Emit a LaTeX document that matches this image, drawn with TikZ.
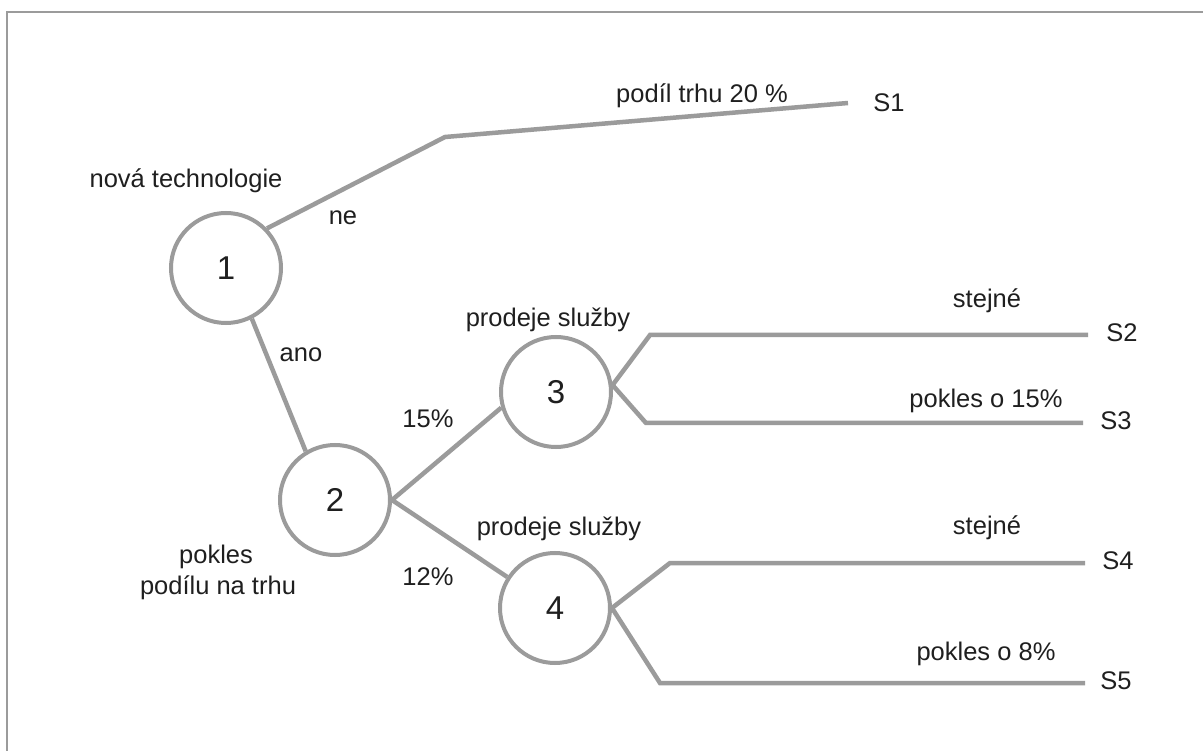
\documentclass[tikz,border=0pt]{standalone}
\usepackage{fontspec}
\setmainfont{Liberation Sans}
\begin{document}
\begin{tikzpicture}[x=1pt,y=-1pt,
  lbl/.style={font=\fontsize{25.5}{30}\selectfont, text=black!88, inner sep=0pt},
  chance/.style={circle, draw=edgegray, line width=4pt, minimum size=110pt, inner sep=0pt,
                 font=\fontsize{33}{36}\selectfont, text=black!88},
  branch/.style={draw=edgegray, line width=4.5pt, line join=miter},
  frameline/.style={draw=edgegray, line width=2pt}]
\definecolor{edgegray}{HTML}{9B9B9B}
\useasboundingbox (0,0) rectangle (1203,751);
\fill[white] (0,0) rectangle (1203,751);
% outer frame (top and left edges)
\coordinate (fa) at (7,751);
\coordinate (fb) at (7,12);
\coordinate (fc) at (1203,12);
\draw[frameline] (fa) -- (fb) -- (fc);

% chance nodes
\node[chance] (c1) at (226,268) {1};
\node[chance] (c2) at (335,500) {2};
\node[chance] (c3) at (556,392) {3};
\node[chance] (c4) at (555,608) {4};

% bend and end points of the branches
\coordinate (b1) at (445,137);
\coordinate (e1) at (848,103);
\coordinate (b3u) at (650,335);
\coordinate (e3u) at (1088,335);
\coordinate (b3d) at (646,423);
\coordinate (e3d) at (1083,423);
\coordinate (b4u) at (670,563);
\coordinate (e4u) at (1085,563);
\coordinate (b4d) at (660,683);
\coordinate (e4d) at (1085,683);

% branches
\draw[branch] (c1.44) -- (b1) -- (e1);
\draw[branch] (c1.297.5) -- (c2.121);
\draw[branch] (c2.east) -- (c3.196);
\draw[branch] (c2.east) -- (c4.147);
\draw[branch] (c3.7) -- (b3u) -- (e3u);
\draw[branch] (c3.7) -- (b3d) -- (e3d);
\draw[branch] (c4.east) -- (b4u) -- (e4u);
\draw[branch] (c4.east) -- (b4d) -- (e4d);

% labels
\node[lbl, anchor=base] (tnova) at (186,188) {nová technologie};
\node[lbl, anchor=base] (tne) at (343,225) {ne};
\node[lbl, anchor=base] (tano) at (301,362) {ano};
\node[lbl, anchor=base] (tpodil) at (702,103) {podíl trhu 20 \%};
\node[lbl] (s1) at (889,103) {S1};
\node[lbl, anchor=base] (tpokles) at (216,563) {pokles};
\node[lbl, anchor=base] (tpodilu) at (218,594) {podílu na trhu};
\node[lbl] (t15) at (428,419) {15\%};
\node[lbl] (t12) at (428,577) {12\%};
\node[lbl, anchor=base] (tprod3) at (548,327) {prodeje služby};
\node[lbl, anchor=base] (tprod4) at (559,535) {prodeje služby};
\node[lbl, anchor=base] (tst3) at (987,308) {stejné};
\node[lbl, anchor=base] (tpk15) at (986,408) {pokles o 15\%};
\node[lbl, anchor=base] (tst4) at (987,534) {stejné};
\node[lbl, anchor=base] (tpk8) at (986,660) {pokles o 8\%};
\node[lbl] (s2) at (1122,333) {S2};
\node[lbl] (s3) at (1116,421) {S3};
\node[lbl] (s4) at (1118,561) {S4};
\node[lbl] (s5) at (1116,681) {S5};
\end{tikzpicture}
\end{document}
